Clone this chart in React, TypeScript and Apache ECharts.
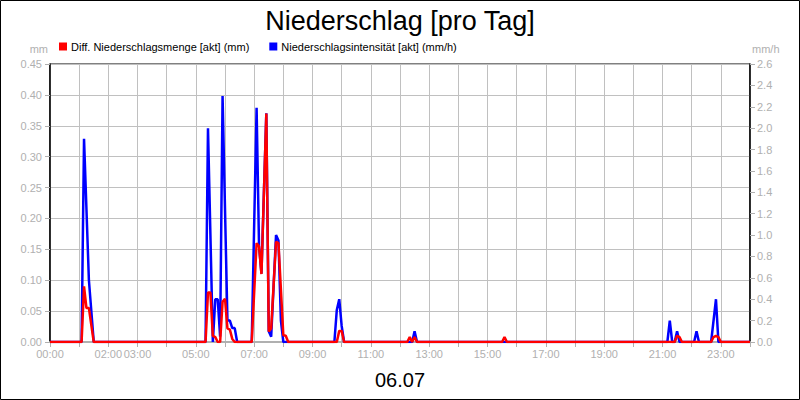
import { useEffect, useRef } from 'react'
import * as echarts from 'echarts'

// Stundenbeschriftung der x-Achse (wie im Original, nicht jede Stunde)
const hourLabels = ['00:00', '02:00', '03:00', '05:00', '07:00', '09:00', '11:00', '13:00', '15:00', '17:00', '19:00', '21:00', '23:00']

// Diff. Niederschlagsmenge [akt] (mm)
const menge: [string, number][] = [
  ['00:00', 0],
  ['01:05', 0], ['01:10', 0.09], ['01:15', 0.055], ['01:20', 0.055], ['01:30', 0],
  ['05:20', 0], ['05:25', 0.08], ['05:30', 0.08], ['05:35', 0.01], ['05:40', 0.008], ['05:45', 0],
  ['05:50', 0], ['05:55', 0.065], ['06:00', 0.07], ['06:05', 0.022], ['06:10', 0.02], ['06:15', 0.005], ['06:20', 0],
  ['06:55', 0], ['07:05', 0.16], ['07:10', 0.155], ['07:15', 0.11], ['07:25', 0.37], ['07:30', 0.017],
  ['07:35', 0.022], ['07:45', 0.162], ['07:50', 0.16], ['08:00', 0.011], ['08:05', 0.01], ['08:10', 0],
  ['09:50', 0], ['09:55', 0.018], ['10:00', 0.018], ['10:05', 0],
  ['12:15', 0], ['12:20', 0.008], ['12:25', 0], ['12:30', 0.008], ['12:35', 0],
  ['15:30', 0], ['15:35', 0.008], ['15:40', 0],
  ['21:25', 0], ['21:30', 0.01], ['21:35', 0.008], ['21:40', 0],
  ['22:40', 0], ['22:45', 0.008], ['22:50', 0.01], ['22:55', 0.008], ['23:00', 0],
  ['24:00', 0],
]

// Niederschlagsintensität [akt] (mm/h)
const intensitaet: [string, number][] = [
  ['00:00', 0],
  ['01:05', 0], ['01:10', 1.9], ['01:20', 0.58], ['01:30', 0],
  ['05:20', 0], ['05:25', 2.0], ['05:35', 0], ['05:40', 0.4], ['05:45', 0.4], ['05:50', 0.05],
  ['05:55', 2.3], ['06:05', 0.2], ['06:10', 0.2], ['06:15', 0.13], ['06:20', 0.13], ['06:25', 0],
  ['06:55', 0], ['07:05', 2.19], ['07:10', 0.9], ['07:15', 0.64], ['07:25', 2.14], ['07:30', 0.1],
  ['07:35', 0.05], ['07:45', 1.0], ['07:50', 0.95], ['07:55', 0.2], ['08:00', 0],
  ['09:45', 0], ['09:50', 0.3], ['09:55', 0.4], ['10:00', 0.15], ['10:05', 0],
  ['12:25', 0], ['12:30', 0.1], ['12:35', 0],
  ['21:10', 0], ['21:15', 0.2], ['21:20', 0], ['21:25', 0], ['21:30', 0.1], ['21:35', 0],
  ['22:05', 0], ['22:10', 0.1], ['22:15', 0],
  ['22:40', 0], ['22:50', 0.4], ['22:55', 0],
  ['24:00', 0],
]

const toHours = (t: string) => {
  const [h, m] = t.split(':').map(Number)
  return h + m / 60
}

const grey = '#b0b0b0'
const font = '"Liberation Sans", Arial, sans-serif'

export default function App() {
  const chartRef = useRef<HTMLDivElement>(null)

  useEffect(() => {
    if (!chartRef.current) return
    document.body.style.margin = '0'

    const chart = echarts.init(chartRef.current, null, { renderer: 'svg' })
    chart.setOption({
      animation: false,
      backgroundColor: '#fff',
      textStyle: { fontFamily: font },
      title: {
        text: 'Niederschlag [pro Tag]',
        left: 'center',
        top: 2,
        textStyle: { fontSize: 27, fontWeight: 'normal', color: '#000', fontFamily: font },
      },
      legend: {
        left: 54,
        top: 36,
        icon: 'rect',
        itemWidth: 8,
        itemHeight: 8,
        itemGap: 20,
        textStyle: { fontSize: 11, color: '#000', fontFamily: font, padding: [0, 0, 0, -1] },
        data: ['Diff. Niederschlagsmenge [akt] (mm)', 'Niederschlagsintensität [akt] (mm/h)'],
      },
      grid: {
        left: 50,
        right: 50,
        top: 64,
        bottom: 58,
        show: true,
        borderColor: '#000',
        borderWidth: 1,
        containLabel: false,
      },
      xAxis: {
        type: 'value',
        min: 0,
        max: 24,
        interval: 1,
        name: '06.07',
        nameLocation: 'middle',
        nameGap: 28,
        nameTextStyle: { fontSize: 20, color: '#000', fontFamily: font },
        axisLine: { show: true, lineStyle: { color: grey, width: 2 } },
        axisTick: { show: true, length: 5, lineStyle: { color: grey } },
        axisLabel: {
          color: grey,
          fontSize: 11,
          margin: 6,
          formatter: (v: number) => {
            const lbl = String(Math.round(v)).padStart(2, '0') + ':00'
            return hourLabels.includes(lbl) ? lbl : ''
          },
        },
        splitLine: { show: true, lineStyle: { color: '#c0c0c0' } },
      },
      yAxis: [
        {
          type: 'value',
          min: 0,
          max: 0.45,
          interval: 0.05,
          name: 'mm',
          nameGap: 10,
          nameTextStyle: { color: grey, fontSize: 11, align: 'right', padding: [0, 2, 0, 0] },
          axisLine: { show: true, lineStyle: { color: '#000', width: 1.5 } },
          axisTick: { show: true, length: 5, lineStyle: { color: grey } },
          axisLabel: { color: grey, fontSize: 11, margin: 8, formatter: (v: number) => v.toFixed(2) },
          splitLine: { show: true, lineStyle: { color: '#c0c0c0' } },
        },
        {
          type: 'value',
          min: 0,
          max: 2.6,
          interval: 0.2,
          name: 'mm/h',
          nameGap: 10,
          nameTextStyle: { color: grey, fontSize: 11, align: 'left', padding: [0, 0, 0, 2] },
          position: 'right',
          axisLine: { show: true, lineStyle: { color: '#000', width: 1.5 } },
          axisTick: { show: true, length: 5, lineStyle: { color: grey } },
          axisLabel: { color: grey, fontSize: 11, margin: 7, formatter: (v: number) => v.toFixed(1) },
          splitLine: { show: false },
        },
      ],
      graphic: [
        {
          type: 'rect',
          shape: { x: 0.5, y: 0.5, width: 799, height: 399 },
          style: { fill: 'none', stroke: '#000', lineWidth: 1 },
          silent: true,
        },
      ],
      series: [
        {
          name: 'Niederschlagsintensität [akt] (mm/h)',
          type: 'line',
          yAxisIndex: 1,
          z: 2,
          showSymbol: false,
          color: '#0000ff',
          lineStyle: { color: '#0000ff', width: 2.5 },
          data: intensitaet.map(([t, v]) => [toHours(t), v]),
        },
        {
          name: 'Diff. Niederschlagsmenge [akt] (mm)',
          type: 'line',
          yAxisIndex: 0,
          z: 3,
          showSymbol: false,
          color: '#ff0000',
          lineStyle: { color: '#ff0000', width: 2.5 },
          data: menge.map(([t, v]) => [toHours(t), v]),
        },
      ],
    })

    return () => {
      chart.dispose()
    }
  }, [])

  return <div ref={chartRef} style={{ width: 800, height: 400 }}></div>
}
